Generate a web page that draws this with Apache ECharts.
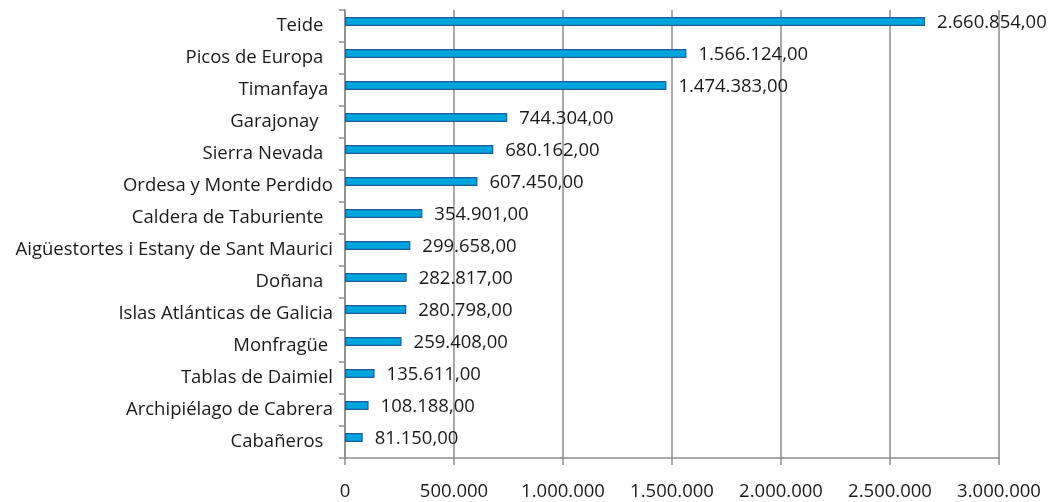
<!DOCTYPE html>
<html>
<head>
<meta charset="utf-8">
<script src="https://cdn.jsdelivr.net/npm/echarts@6/dist/echarts.min.js"></script>
<style>
  html, body { margin: 0; padding: 0; background: #fff; }
  #chart { width: 1049px; height: 502px; }
</style>
</head>
<body>
<div id="chart"></div>
<script>
// parques nacionales - visitantes (los nombres llevan espacios al final como en el original)
var parques = ['Teide  ', 'Picos de Europa  ', 'Timanfaya ', 'Garajonay   ', 'Sierra Nevada  ',
    'Ordesa y Monte Perdido', 'Caldera de Taburiente  ', 'Aigüestortes i Estany de Sant Maurici',
    'Doñana  ', 'Islas Atlánticas de Galicia', 'Monfragüe ', 'Tablas de Daimiel',
    'Archipiélago de Cabrera', 'Cabañeros  '];
var visitantes = [2660854, 1566124, 1474383, 744304, 680162, 607450, 354901, 299658,
    282817, 280798, 259408, 135611, 108188, 81150];
var ejeMax = 3000000;
var ejePaso = 500000;

// 1234567 -> 1.234.567
function miles(n) {
    return String(Math.round(n)).replace(/\B(?=(\d{3})+(?!\d))/g, '.');
}

var myChart = echarts.init(document.getElementById('chart'));
var fuente = '"Open Sans", "Noto Sans", sans-serif';
var gris = '#8c8c8c';
var option = {
    animation: false,
    grid: {
        left: 345,
        right: 50,
        top: 10,
        bottom: 44
    },
    xAxis: {
        type: 'value',
        min: 0,
        max: ejeMax,
        interval: ejePaso,
        axisLine: { show: true, lineStyle: { color: gris, width: 1.5 } },
        axisTick: { show: true, length: 7, lineStyle: { color: gris, width: 1.5 } },
        splitLine: { show: true, lineStyle: { color: gris, width: 1.5 } },
        axisLabel: {
            margin: 24,
            color: '#1a1a1a',
            fontFamily: fuente,
            fontSize: 18.5,
            formatter: function (v) { return miles(v); }
        }
    },
    yAxis: {
        type: 'category',
        inverse: true,
        data: parques,
        axisLine: { show: true, lineStyle: { color: gris, width: 1.5 } },
        axisTick: { show: true, length: 6, lineStyle: { color: gris, width: 1.5 } },
        axisLabel: {
            margin: 12,
            color: '#1a1a1a',
            fontFamily: fuente,
            fontSize: 18.5,
            padding: [0, 0, 4, 0]
        }
    },
    series: [
        {
            type: 'bar',
            data: visitantes,
            barWidth: 9,
            barGap: '0%',
            itemStyle: {
                color: '#00a5de',
                borderColor: '#1b5e9e',
                borderWidth: 1.2
            },
            label: {
                show: true,
                position: 'right',
                distance: 12,
                offset: [0, 1],
                color: '#1a1a1a',
                fontFamily: fuente,
                fontSize: 18.5,
                formatter: function (p) { return miles(p.value) + ',00'; }
            }
        },
        {
            // hueco invisible para subir la barra dentro de la banda
            type: 'bar',
            data: visitantes,
            barWidth: 9,
            silent: true,
            itemStyle: { color: 'transparent' }
        }
    ]
};
myChart.setOption(option);
</script>
</body>
</html>
